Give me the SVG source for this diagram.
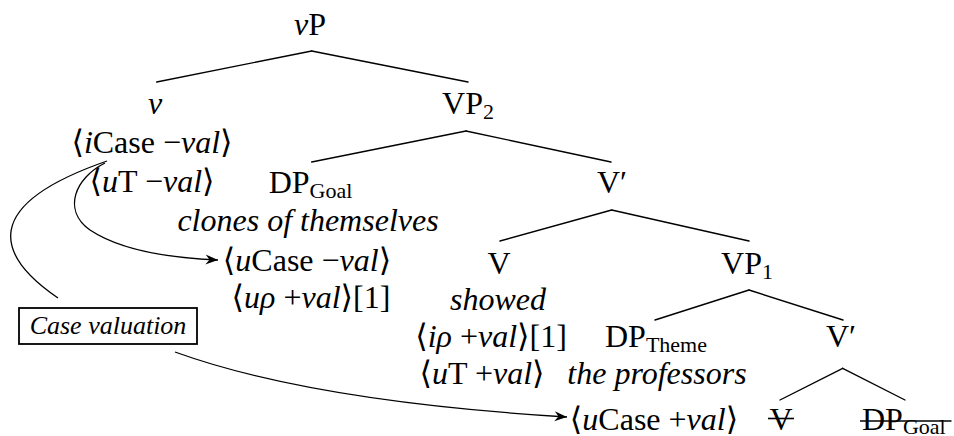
<svg xmlns="http://www.w3.org/2000/svg" width="954" height="436" viewBox="0 0 954 436">
<style>
text{font-family:"Liberation Serif","DejaVu Serif",serif;font-size:32px;fill:#000;text-anchor:middle}
.it{font-style:italic}
.sub{font-size:22px}
.edge{stroke:#000;stroke-width:1.4;fill:none;stroke-linecap:round}
.curve{stroke:#000;stroke-width:1.3;fill:none}
.strike{stroke:#000;stroke-width:1.6}
.box{fill:#fff;stroke:#000;stroke-width:1.8}
.lbl{font-size:26px;font-style:italic}
</style>
<defs>
<marker id="arr" viewBox="-13 -6 14 12" refX="0" refY="0" markerWidth="14" markerHeight="12" markerUnits="userSpaceOnUse" orient="auto">
<path d="M0,0 L-12.5,-5 L-8.5,0 L-12.5,5 Z" fill="#000"/>
</marker>
</defs>

<g id="edges">
<line class="edge" x1="311.7" y1="51" x2="156.7" y2="82"/>
<line class="edge" x1="311.7" y1="51" x2="468" y2="82"/>
<line class="edge" x1="466" y1="131" x2="311.7" y2="162"/>
<line class="edge" x1="466" y1="131" x2="611" y2="162"/>
<line class="edge" x1="611.7" y1="210" x2="500" y2="241"/>
<line class="edge" x1="611.7" y1="210" x2="749" y2="241"/>
<line class="edge" x1="749" y1="290" x2="655" y2="320"/>
<line class="edge" x1="749" y1="290" x2="843" y2="320"/>
<line class="edge" x1="842.7" y1="368.3" x2="780" y2="400"/>
<line class="edge" x1="842.7" y1="368.3" x2="905" y2="400"/>
</g>

<g id="arrows">
<path class="curve" d="M107,161 C -20,205 -5,255 58,298"/>
<path class="curve" d="M105,163 C 75,178 62,210 90,230 C 120,250 170,258 218,260" marker-end="url(#arr)"/>
<path class="curve" d="M175,352 C 280,390 420,408 567,417" marker-end="url(#arr)"/>
</g>

<g id="node-vP"><text x="310" y="35"><tspan class="it">v</tspan>P</text></g>

<g id="node-v">
<text x="155" y="114" class="it">v</text>
<text x="152" y="153">⟨<tspan class="it">i</tspan>Case −<tspan class="it">val</tspan>⟩</text>
<text x="152" y="192">⟨<tspan class="it">u</tspan>T −<tspan class="it">val</tspan>⟩</text>
</g>

<g id="node-VP2"><text x="468" y="114">VP<tspan class="sub" dy="5">2</tspan></text></g>

<g id="node-DPGoal">
<text x="310.5" y="193">DP<tspan class="sub" dy="5">Goal</tspan></text>
<text x="308" y="231" class="it">clones of themselves</text>
<text x="307" y="271">⟨<tspan class="it">u</tspan>Case −<tspan class="it">val</tspan>⟩</text>
<text x="311" y="308">⟨<tspan class="it">uρ</tspan> +<tspan class="it">val</tspan>⟩[1]</text>
</g>

<g id="node-Vbar1"><text x="612" y="193">V′</text></g>

<g id="node-V">
<text x="499" y="274">V</text>
<text x="498" y="310" class="it">showed</text>
<text x="491" y="347">⟨<tspan class="it">iρ</tspan> +<tspan class="it">val</tspan>⟩[1]</text>
<text x="482" y="384">⟨<tspan class="it">u</tspan>T +<tspan class="it">val</tspan>⟩</text>
</g>

<g id="node-VP1"><text x="747" y="274">VP<tspan class="sub" dy="5">1</tspan></text></g>

<g id="node-DPTheme">
<text x="656" y="347">DP<tspan class="sub" dy="5">Theme</tspan></text>
<text x="657" y="384" class="it">the professors</text>
<text x="654" y="430">⟨<tspan class="it">u</tspan>Case +<tspan class="it">val</tspan>⟩</text>
</g>

<g id="node-Vbar2"><text x="841" y="347">V′</text></g>

<g id="node-Vtrace">
<text x="781" y="430">V</text>
<line class="strike" x1="768" y1="418.5" x2="794" y2="418.5"/>
</g>

<g id="node-DPGoal-trace">
<text x="862" y="430" style="text-anchor:start">DP<tspan class="sub" dy="4">Goal</tspan></text>
<line class="strike" x1="860" y1="421" x2="951.5" y2="421"/>
</g>

<g id="case-valuation">
<rect class="box" x="19" y="308" width="178" height="36"/>
<text x="108" y="334" class="lbl">Case valuation</text>
</g>
</svg>
